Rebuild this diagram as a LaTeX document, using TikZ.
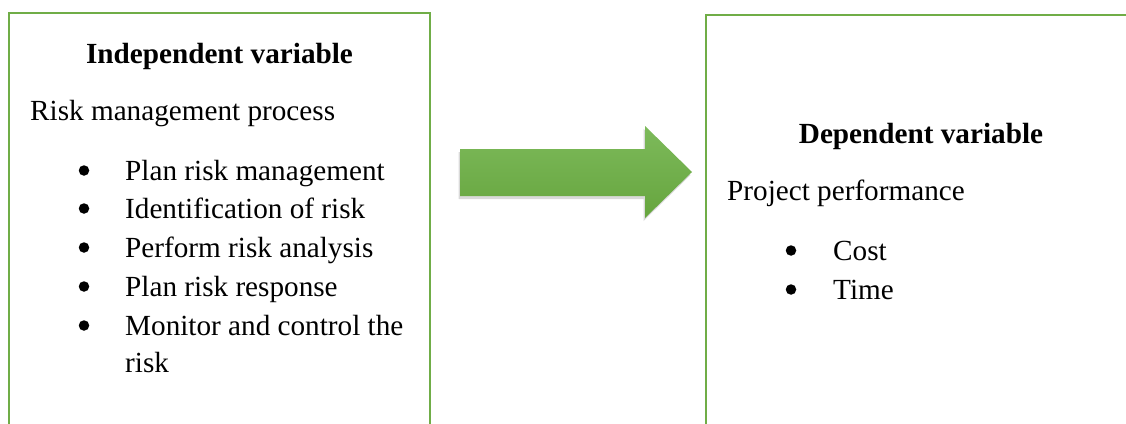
\documentclass[tikz,border=0pt]{standalone}
\usepackage{fontspec}
\setmainfont{Liberation Serif}
\usetikzlibrary{shadows}
\definecolor{boxgreen}{HTML}{70AD47}
\definecolor{arrowtop}{HTML}{7DBA5B}
\definecolor{arrowbot}{HTML}{66A53E}
\begin{document}
\begin{tikzpicture}[x=1pt,y=-1pt,
  frame/.style={draw=boxgreen, line width=2.6pt},
  body/.style={anchor=base west, inner sep=0pt, font=\fontsize{29.2}{35}\selectfont},
  heading/.style={anchor=base, inner sep=0pt, font=\fontsize{29.2}{35}\selectfont\bfseries},
  bulletmark/.style={circle, fill=black, inner sep=0pt, minimum size=10.5pt}]
\useasboundingbox (0,0) rectangle (1126,423);
\clip (0,0) rectangle (1126,423);

% open-bottomed frames
\draw[frame] (9,440) -- (9,13) -- (430,13) -- (430,440);
\draw[frame] (706,440) -- (706,15) -- (1140,15);

% left frame: independent variable
\node[heading] (indep) at (219.5,63) {Independent variable};
\node[body] (rmp) at (30,120) {Risk management process};
\foreach \y/\name/\txt in {180/a/Plan risk management,
                           218/b/Identification of risk,
                           257/c/Perform risk analysis,
                           296/d/Plan risk response,
                           335/e/Monitor and control the}{
  \node[bulletmark] (dot\name) at (84,\y-9.5) {};
  \node[body] (item\name) at (125,\y) {\txt};
}
\node[body] (itemf) at (125,372) {risk};

% block arrow between the frames
\coordinate (tail) at (460,172);
\coordinate (tip) at (692,172);
\path[top color=arrowtop, bottom color=arrowbot,
      drop shadow={shadow xshift=-1.5pt, shadow yshift=-3pt, opacity=0.3}]
  (460,149) -- (645,149) -- (645,126) -- (tip) -- (645,218) -- (645,196) -- (460,196) -- cycle;

% right frame: dependent variable
\node[heading] (dep) at (921,143) {Dependent variable};
\node[body] (pp) at (727,200) {Project performance};
\node[bulletmark] (dotg) at (791,250.5) {};
\node[body] (cost) at (833,260) {Cost};
\node[bulletmark] (doth) at (791,289.5) {};
\node[body] (time) at (833,299) {Time};
\end{tikzpicture}
\end{document}
